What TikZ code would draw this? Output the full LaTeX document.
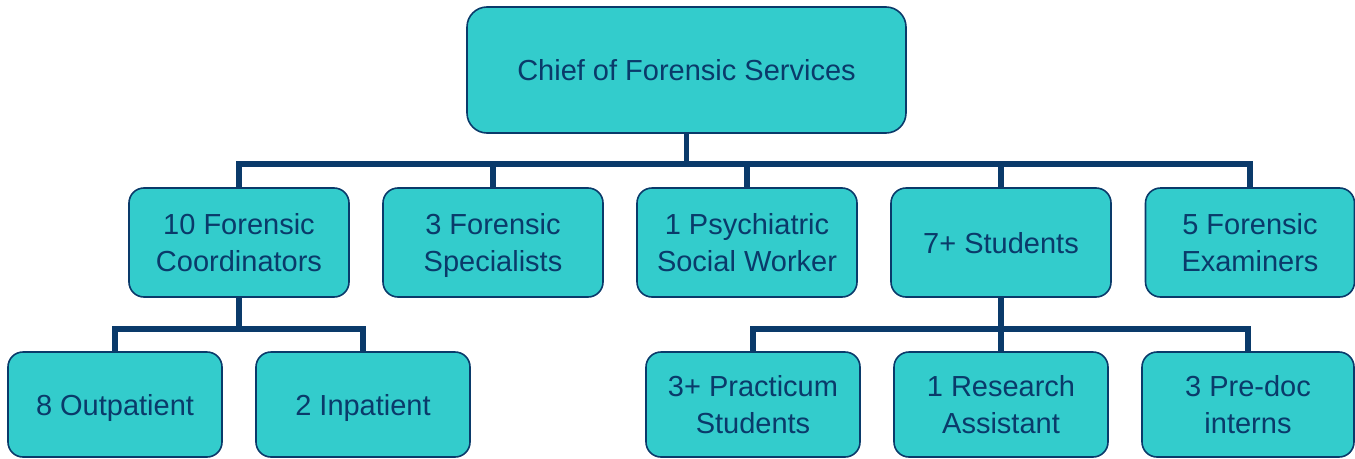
\documentclass[tikz,border=0pt]{standalone}
\usepackage{fontspec}
\setmainfont{Liberation Sans}
\usetikzlibrary{positioning}
\definecolor{cteal}{HTML}{33CCCC}
\definecolor{cnavy}{HTML}{0A3A6A}
\tikzset{
  unit/.style={draw=cnavy, fill=cteal, text=cnavy, line width=1.6pt, rounded corners=15pt,
    align=center, inner sep=0pt, text depth=0pt, minimum width=#1, font=\fontsize{29}{36.5}\selectfont},
  unit/.default=220pt,
  link/.style={draw=cnavy, line width=5.5pt, line join=miter},
}

\begin{document}
\begin{tikzpicture}[x=1pt, y=-1pt]
  \useasboundingbox (0,0) rectangle (1355,458);
  \node[unit=439pt, minimum height=126pt, rounded corners=20pt] (chief) at (686.5,70) {Chief of Forensic Services};
  % second row
  \foreach \name/\x/\txt in {coord/239/{10 Forensic\\Coordinators}, spec/493/{3 Forensic\\Specialists},
      social/747/{1 Psychiatric\\Social Worker}, stud/1001/{7+ Students}}
    \node[unit, minimum height=109pt] (\name) at (\x,242.5) {\txt};
  \node[unit=209pt, minimum height=109pt] (exam) at (1250,242.5) {5 Forensic\\Examiners};
  % third row
  \node[unit=214pt, minimum height=105pt] (outp) at (115,404.5) {8 Outpatient};
  \node[unit=214pt, minimum height=105pt] (inp) at (363,404.5) {2 Inpatient};
  \node[unit=214pt, minimum height=105pt] (prac) at (753,404.5) {3+ Practicum\\Students};
  \node[unit=214pt, minimum height=105pt] (research) at (1001,404.5) {1 Research\\Assistant};
  \node[unit=212pt, minimum height=105pt] (predoc) at (1248,404.5) {3 Pre-doc\\interns};
  % connectors
  \foreach \n in {coord, spec, social, stud, exam}
    \draw[link] (chief.south) -- ++(0,30) -| (\n.north);
  \foreach \n in {outp, inp}
    \draw[link] (coord.south) -- ++(0,31) -| (\n.north);
  \foreach \n in {prac, research, predoc}
    \draw[link] (stud.south) -- ++(0,31) -| (\n.north);
\end{tikzpicture}
\end{document}
